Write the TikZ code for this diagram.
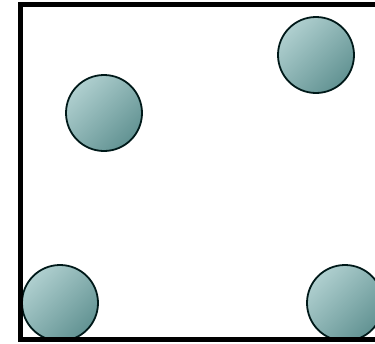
\documentclass[tikz,border=0pt]{standalone}
\begin{document}
\begin{tikzpicture}[x=1pt,y=-1pt,
  ball/.style={circle, draw=black!80!teal, line width=1.8pt, minimum size=76pt, inner sep=0pt,
    shading=axis, left color=cyan!25!gray!50, right color=teal!45!gray!85, shading angle=45},
  frame/.style={line width=5pt, draw=black}]
\useasboundingbox (0,0) rectangle (375,343);
\clip (0,0) rectangle (375,343);
\fill[white] (0,0) rectangle (375,343);
\node[ball] (b1) at (104,113) {};
\node[ball] (b2) at (316,55) {};
\node[ball] (b3) at (60,303) {};
\node[ball] (b4) at (345,303) {};
\draw[frame] (390,4) -- (20.5,4) -- (20.5,339) -- (390,339);
\end{tikzpicture}
\end{document}
